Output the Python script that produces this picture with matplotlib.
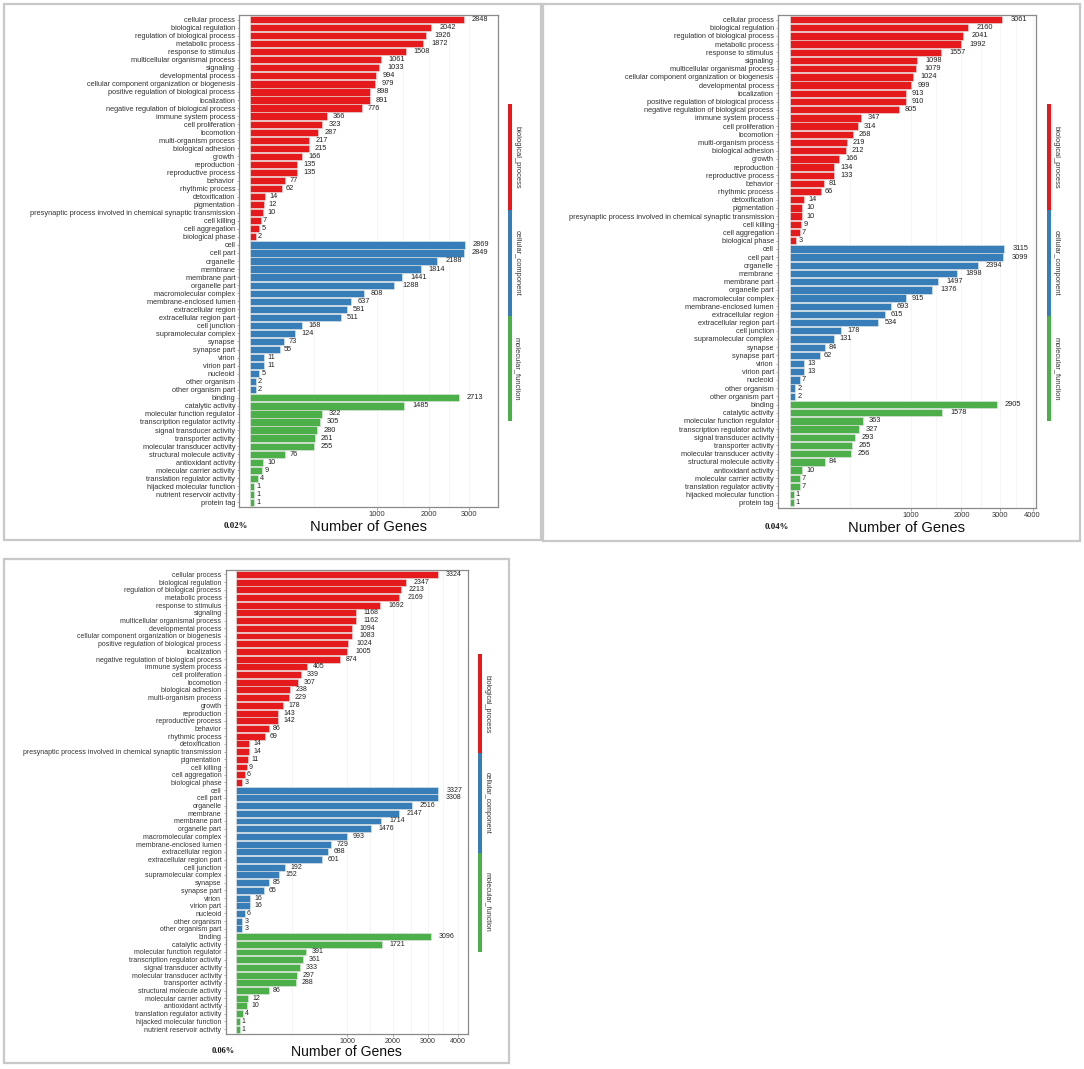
import matplotlib
matplotlib.use("Agg")
import matplotlib.pyplot as plt
import numpy as np
from matplotlib.patches import Rectangle

W, H = 1084, 1069

# ---------------- data: panel 1 (0.02%) ----------------
bp_terms_1 = ["cellular process", "biological regulation", "regulation of biological process",
              "metabolic process", "response to stimulus", "multicellular organismal process",
              "signaling", "developmental process", "cellular component organization or biogenesis",
              "positive regulation of biological process", "localization",
              "negative regulation of biological process", "immune system process",
              "cell proliferation", "locomotion", "multi-organism process", "biological adhesion",
              "growth", "reproduction", "reproductive process", "behavior", "rhythmic process",
              "detoxification", "pigmentation",
              "presynaptic process involved in chemical synaptic transmission",
              "cell killing", "cell aggregation", "biological phase"]
bp_counts_1 = [2848, 2042, 1926, 1872, 1508, 1061, 1033, 994, 979, 898, 891, 776, 366, 323,
               287, 217, 215, 166, 135, 135, 77, 62, 14, 12, 10, 7, 5, 2]
cc_terms_1 = ["cell", "cell part", "organelle", "membrane", "membrane part", "organelle part",
              "macromolecular complex", "membrane-enclosed lumen", "extracellular region",
              "extracellular region part", "cell junction", "supramolecular complex", "synapse",
              "synapse part", "virion", "virion part", "nucleoid", "other organism",
              "other organism part"]
cc_counts_1 = [2869, 2849, 2188, 1814, 1441, 1288, 808, 637, 581, 511, 168, 124, 73, 55,
               11, 11, 5, 2, 2]
mf_terms_1 = ["binding", "catalytic activity", "molecular function regulator",
              "transcription regulator activity", "signal transducer activity",
              "transporter activity", "molecular transducer activity",
              "structural molecule activity", "antioxidant activity",
              "molecular carrier activity", "translation regulator activity",
              "hijacked molecular function", "nutrient reservoir activity", "protein tag"]
mf_counts_1 = [2713, 1485, 322, 305, 280, 261, 255, 76, 10, 9, 4, 1, 1, 1]

# ---------------- data: panel 2 (0.04%) ----------------
bp_terms_2 = ["cellular process", "biological regulation", "regulation of biological process",
              "metabolic process", "response to stimulus", "signaling",
              "multicellular organismal process", "cellular component organization or biogenesis",
              "developmental process", "localization", "positive regulation of biological process",
              "negative regulation of biological process", "immune system process",
              "cell proliferation", "locomotion", "multi-organism process", "biological adhesion",
              "growth", "reproduction", "reproductive process", "behavior", "rhythmic process",
              "detoxification", "pigmentation",
              "presynaptic process involved in chemical synaptic transmission",
              "cell killing", "cell aggregation", "biological phase"]
bp_counts_2 = [3061, 2160, 2041, 1992, 1557, 1098, 1079, 1024, 999, 913, 910, 805, 347, 314,
               268, 219, 212, 166, 134, 133, 81, 66, 14, 10, 10, 9, 7, 3]
cc_terms_2 = cc_terms_1
cc_counts_2 = [3115, 3099, 2394, 1898, 1497, 1376, 915, 693, 615, 534, 178, 131, 84, 62,
               13, 13, 7, 2, 2]
mf_terms_2 = ["binding", "catalytic activity", "molecular function regulator",
              "transcription regulator activity", "signal transducer activity",
              "transporter activity", "molecular transducer activity",
              "structural molecule activity", "antioxidant activity",
              "molecular carrier activity", "translation regulator activity",
              "hijacked molecular function", "protein tag"]
mf_counts_2 = [2905, 1578, 363, 327, 293, 265, 256, 84, 10, 7, 7, 1, 1]

# ---------------- data: panel 3 (0.06%) ----------------
bp_terms_3 = ["cellular process", "biological regulation", "regulation of biological process",
              "metabolic process", "response to stimulus", "signaling",
              "multicellular organismal process", "developmental process",
              "cellular component organization or biogenesis",
              "positive regulation of biological process", "localization",
              "negative regulation of biological process", "immune system process",
              "cell proliferation", "locomotion", "biological adhesion", "multi-organism process",
              "growth", "reproduction", "reproductive process", "behavior", "rhythmic process",
              "detoxification",
              "presynaptic process involved in chemical synaptic transmission",
              "pigmentation", "cell killing", "cell aggregation", "biological phase"]
bp_counts_3 = [3324, 2347, 2213, 2169, 1692, 1168, 1162, 1094, 1083, 1024, 1005, 874, 405, 339,
               307, 238, 229, 178, 143, 142, 86, 69, 14, 14, 11, 9, 6, 3]
cc_terms_3 = cc_terms_1
cc_counts_3 = [3327, 3308, 2516, 2147, 1714, 1476, 993, 729, 688, 601, 192, 152, 85, 65,
               16, 16, 6, 3, 3]
mf_terms_3 = ["binding", "catalytic activity", "molecular function regulator",
              "transcription regulator activity", "signal transducer activity",
              "molecular transducer activity", "transporter activity",
              "structural molecule activity", "molecular carrier activity",
              "antioxidant activity", "translation regulator activity",
              "hijacked molecular function", "nutrient reservoir activity"]
mf_counts_3 = [3096, 1721, 391, 361, 333, 297, 288, 86, 12, 10, 4, 1, 1]

ontology_names = ["biological_process", "cellular_component", "molecular_function"]
ontology_colors = ["#E41A1C", "#377EB8", "#4DAF4A"]

FONT = "Liberation Sans"


def fx(px):
    return px / W


def fy(py):
    return 1 - py / H


def fwd(x):
    x = np.asarray(x, dtype=float)
    return np.sign(x) * np.sqrt(np.abs(x))


def inv(x):
    x = np.asarray(x, dtype=float)
    return np.sign(x) * x ** 2


def draw_panel(fig, p):
    # outer panel box
    bx0, by0, bx1, by1 = p["box"]
    fig.patches.append(Rectangle((fx(bx0), fy(by1)), fx(bx1 - bx0), (by1 - by0) / H,
                                 transform=fig.transFigure, fill=False,
                                 edgecolor="#c8c8c8", linewidth=1.6))

    terms = p["bp"][0] + p["cc"][0] + p["mf"][0]
    counts = p["bp"][1] + p["cc"][1] + p["mf"][1]
    colors = ([ontology_colors[0]] * len(p["bp"][0]) + [ontology_colors[1]] * len(p["cc"][0])
              + [ontology_colors[2]] * len(p["mf"][0]))
    n = len(terms)
    s = p["scale"]

    ax0, ay0, ax1, ay1 = p["axes"]
    ax = fig.add_axes([fx(ax0), fy(ay1), fx(ax1 - ax0), (ay1 - ay0) / H])
    ax.set_xscale("function", functions=(fwd, inv))
    ypos = np.arange(n)
    ax.barh(ypos, counts, height=0.9, color=colors, edgecolor="#e6e6e6", linewidth=0.4)
    ax.set_xlim(*p["xlim"])
    ax.set_ylim(n - 1 + 0.6, -0.6)

    fs_val = 5.3 * s
    for yv, c in zip(ypos, counts):
        lab = str(c)
        off = 0.5 * len(lab) * 0.556 * fs_val
        ax.annotate(lab, (c, yv), xytext=(off, 0), textcoords="offset points",
                    ha="left", va="center", fontsize=fs_val, color="#222222", family=FONT)

    ax.set_yticks(ypos)
    ax.set_yticklabels(terms, fontsize=5.3 * s, family=FONT, color="#333333")
    ax.set_xticks(p["xticks"])
    ax.set_xticklabels([str(t) for t in p["xticks"]], fontsize=5.4 * s, family=FONT,
                       color="#333333")
    ax.minorticks_off()
    ax.tick_params(axis="both", length=1.8, width=0.5, color="#888888", pad=1.2)

    # faint grid at majors and midpoints in sqrt space
    majors = [0] + list(p["xticks"])
    mids = [((np.sqrt(a) + np.sqrt(b)) / 2) ** 2 for a, b in zip(majors[:-1], majors[1:])]
    for g in list(p["xticks"]) + mids:
        ax.axvline(g, color="#f2f2f2", linewidth=0.5, zorder=0)
    ax.set_axisbelow(True)
    for sp in ax.spines.values():
        sp.set_color("#8a8a8a")
        sp.set_linewidth(0.9)

    # x label and sample tag
    lx, ly = p["xlabel_at"]
    fig.text(fx(lx), fy(ly), "Number of Genes", ha="center", va="center",
             fontsize=10.6 * s, family=FONT, color="#111111")
    tx, ty = p["tag_at"]
    fig.text(fx(tx), fy(ty), p["tag"], ha="center", va="center", fontsize=6.3 * s,
             family="Liberation Serif", fontweight="bold", color="#111111")

    # ontology side bar
    sx, sy0, sy1 = p["side"]
    seg = (sy1 - sy0) / 3
    for i, (name, col) in enumerate(zip(ontology_names, ontology_colors)):
        top = sy0 + i * seg
        fig.patches.append(Rectangle((fx(sx - 2), fy(top + seg)), fx(4), seg / H,
                                     transform=fig.transFigure, facecolor=col,
                                     edgecolor="none"))
        fig.text(fx(sx + 7), fy(top + seg / 2), name, rotation=-90, ha="center",
                 va="center", fontsize=5.4 * s, family=FONT, color="#333333")


panels = [
    dict(bp=(bp_terms_1, bp_counts_1), cc=(cc_terms_1, cc_counts_1), mf=(mf_terms_1, mf_counts_1),
         box=(3.5, 4, 540.5, 540), axes=(239.3, 14.7, 497.5, 507.3), xlim=(-7.6, 3820),
         xticks=[1000, 2000, 3000], xlabel_at=(368, 527), tag="0.02%", tag_at=(235.5, 525.7),
         side=(510, 104.3, 421.3), scale=1.0),
    dict(bp=(bp_terms_2, bp_counts_2), cc=(cc_terms_2, cc_counts_2), mf=(mf_terms_2, mf_counts_2),
         box=(542.7, 4, 1079.5, 540.7), axes=(778, 14.7, 1036.2, 507.7), xlim=(-9.4, 4120),
         xticks=[1000, 2000, 3000, 4000], xlabel_at=(906.8, 527.7), tag="0.04%",
         tag_at=(776.8, 526.7), side=(1049.4, 104.3, 421.3), scale=1.0),
    dict(bp=(bp_terms_3, bp_counts_3), cc=(cc_terms_3, cc_counts_3), mf=(mf_terms_3, mf_counts_3),
         box=(3.5, 559, 509, 1063.3), axes=(225.6, 569.7, 468.3, 1033.7), xlim=(-9.1, 4383),
         xticks=[1000, 2000, 3000, 4000], xlabel_at=(346.6, 1051.7), tag="0.06%",
         tag_at=(223.3, 1051), side=(480.4, 654.3, 951.7), scale=0.95),
]

fig = plt.figure(figsize=(W / 100, H / 100), dpi=100)
fig.patch.set_facecolor("white")
for p in panels:
    draw_panel(fig, p)

fig.savefig("out.png", dpi=100)
